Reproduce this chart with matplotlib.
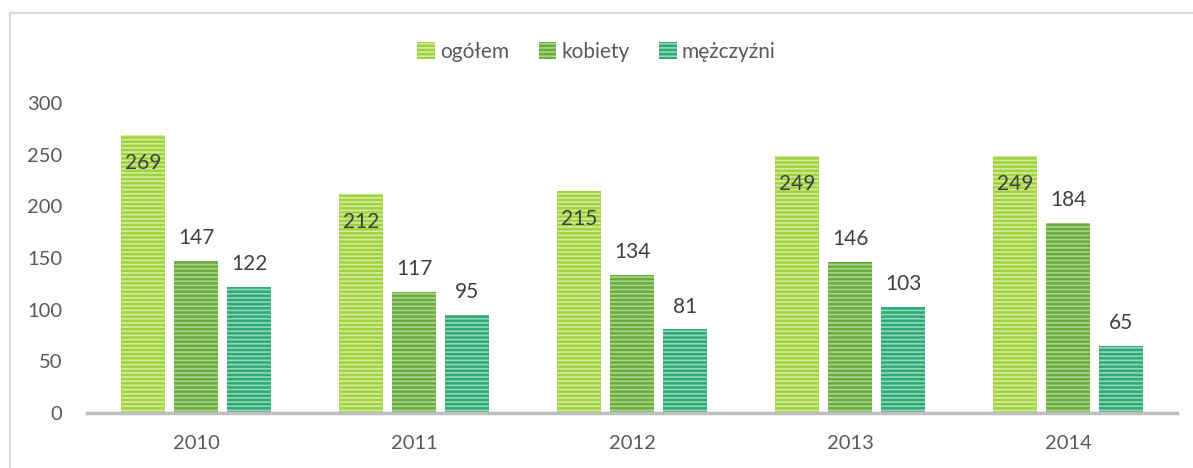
import numpy as np
import matplotlib.pyplot as plt
from matplotlib.lines import Line2D

plt.rcParams['font.family'] = ['Lato', 'DejaVu Sans']
plt.rcParams['hatch.linewidth'] = 1.2

# ==================================
# Dane
# ==================================

lata = ["2010", "2011", "2012", "2013", "2014"]

ogolem = [269, 212, 215, 249, 249]
kobiety = [147, 117, 134, 146, 184]
mezczyzni = [122, 95, 81, 103, 65]

serie = ["ogółem", "kobiety", "mężczyźni"]

kolory = ["#9fd23c", "#6aac3f", "#2fa878"]
paski = ["#d2ec9c", "#a9d68a", "#8fd8b7"]

# ==================================
# Wykres
# ==================================

fig = plt.figure(figsize=(11.93, 4.68), dpi=100)
ax = fig.add_axes([87 / 1193, 1 - 413 / 468, 1090 / 1193, 310 / 468])

x = np.arange(len(lata))
szer = 0.2
krok = 0.243

wartosci = [ogolem, kobiety, mezczyzni]

for i, (dane, nazwa) in enumerate(zip(wartosci, serie)):
    pos = x + (i - 1) * krok
    bars = ax.bar(
        pos, dane, width=szer,
        color=kolory[i], edgecolor=paski[i],
        hatch="----", linewidth=0,
        label=nazwa
    )
    for b, v in zip(bars, dane):
        if i == 0:
            ax.text(b.get_x() + b.get_width() / 2, v - 27, str(v),
                    ha="center", va="center", fontsize=15, color="#404040")
        else:
            ax.text(b.get_x() + b.get_width() / 2, v + 22, str(v),
                    ha="center", va="center", fontsize=15, color="#404040")

ax.set_xlim(-0.5, len(lata) - 0.5)
ax.set_ylim(0, 300)
ax.set_yticks(range(0, 301, 50))
ax.set_xticks(x)
ax.set_xticklabels(lata)

for s in ["top", "right", "left"]:
    ax.spines[s].set_visible(False)
ax.spines["bottom"].set_color("#bfbfbf")
ax.spines["bottom"].set_linewidth(2.5)

ax.tick_params(axis="both", length=0, labelsize=14.5, colors="#595959")
ax.tick_params(axis="y", pad=18)
ax.tick_params(axis="x", pad=16)

leg = ax.legend(
    loc="center", bbox_to_anchor=(0.5, (468 - 52) / 468),
    bbox_transform=fig.transFigure,
    ncol=3, frameon=False, fontsize=15,
    handlelength=0.85, handleheight=0.85, handletextpad=0.25,
    columnspacing=1.4
)
for t in leg.get_texts():
    t.set_color("#595959")

# ramka
fig.add_artist(Line2D([10 / 1193, 10 / 1193], [0, 1 - 13 / 468],
                      transform=fig.transFigure, color="#d9d9d9", lw=1.5))
fig.add_artist(Line2D([10 / 1193, 1], [1 - 13 / 468, 1 - 13 / 468],
                      transform=fig.transFigure, color="#d9d9d9", lw=1.5))

fig.savefig("out.png", dpi=100)
